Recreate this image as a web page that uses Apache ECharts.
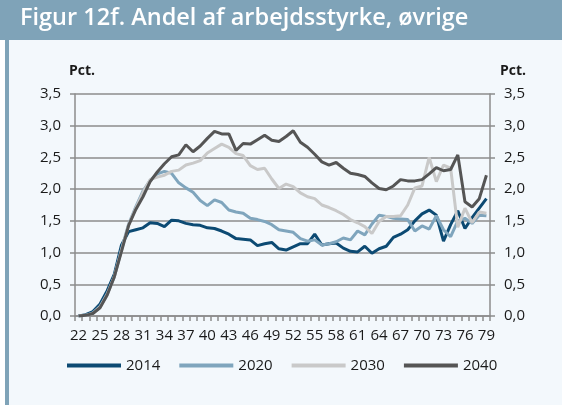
<!DOCTYPE html>
<html><head><meta charset="utf-8">
<script src="https://cdn.jsdelivr.net/npm/echarts@6/dist/echarts.min.js"></script>
<style>html,body{margin:0;padding:0;background:#fff}#c{width:562px;height:405px}</style>
</head><body><div id="c"></div>
<script>
const ages = ['22','23','24','25','26','27','28','29','30','31','32','33','34','35','36','37','38','39','40','41','42','43','44','45','46','47','48','49','50','51','52','53','54','55','56','57','58','59','60','61','62','63','64','65','66','67','68','69','70','71','72','73','74','75','76','77','78','79'];
const s2014 = [0.00,0.02,0.07,0.19,0.40,0.66,1.12,1.33,1.36,1.39,1.47,1.46,1.41,1.51,1.50,1.46,1.44,1.43,1.39,1.38,1.34,1.29,1.22,1.21,1.20,1.11,1.14,1.16,1.06,1.04,1.09,1.14,1.14,1.29,1.12,1.14,1.15,1.07,1.02,1.01,1.10,0.99,1.06,1.10,1.24,1.29,1.36,1.50,1.61,1.67,1.59,1.18,1.44,1.66,1.38,1.55,1.70,1.85];
const s2020 = [0.00,0.01,0.05,0.15,0.35,0.62,1.05,1.45,1.72,1.97,2.14,2.24,2.28,2.25,2.10,2.02,1.95,1.82,1.74,1.83,1.79,1.67,1.64,1.62,1.54,1.52,1.49,1.44,1.36,1.34,1.32,1.22,1.18,1.20,1.12,1.14,1.17,1.23,1.20,1.34,1.28,1.45,1.59,1.57,1.54,1.53,1.52,1.34,1.42,1.37,1.58,1.36,1.25,1.50,1.54,1.46,1.59,1.58];
const s2030 = [0.00,0.01,0.04,0.14,0.34,0.62,1.04,1.44,1.70,1.95,2.15,2.19,2.22,2.28,2.30,2.38,2.41,2.45,2.57,2.64,2.71,2.66,2.56,2.53,2.37,2.31,2.33,2.16,2.01,2.08,2.04,1.94,1.88,1.85,1.75,1.71,1.66,1.60,1.52,1.47,1.41,1.30,1.49,1.57,1.57,1.58,1.75,2.02,2.05,2.50,2.12,2.38,2.33,1.40,1.70,1.47,1.64,1.62];
const s2040 = [0.00,0.01,0.04,0.13,0.33,0.62,1.02,1.43,1.68,1.88,2.12,2.27,2.40,2.51,2.54,2.70,2.59,2.68,2.80,2.91,2.87,2.87,2.61,2.72,2.71,2.78,2.85,2.77,2.75,2.83,2.92,2.74,2.66,2.55,2.43,2.38,2.42,2.33,2.25,2.23,2.20,2.10,2.01,1.99,2.05,2.15,2.13,2.13,2.15,2.24,2.34,2.29,2.31,2.54,1.80,1.72,1.85,2.22];
const seriesNames = ['2014','2020','2030','2040'];
const seriesColors = ['#0c4a73','#7fa5bd','#c9c9c9','#555555'];
const titleText = 'Figur 12f. Andel af arbejdsstyrke, øvrige';
const unitLabel = 'Pct.';

const FONT = '"Open Sans", sans-serif';
const gridCol = '#8c8c8c';
const fmt = v => v.toFixed(1).replace('.', ',');

const chart = echarts.init(document.getElementById('c'), null, {renderer: 'canvas'});
const yAxisBase = {
  type: 'value', min: 0, max: 3.5, interval: 0.5,
  axisLine: {show: true, lineStyle: {color: gridCol, width: 1.5}},
  axisTick: {show: true, length: 5, lineStyle: {color: gridCol, width: 1.5}},
  axisLabel: {formatter: fmt, color: '#1a1a1a', fontSize: 15, fontFamily: FONT, margin: 14}
};
const data = [s2014, s2020, s2030, s2040];
chart.setOption({
  backgroundColor: '#f3f8fc',
  animation: false,
  graphic: [
    {type: 'rect', shape: {x: 0, y: 0, width: 562, height: 40}, style: {fill: '#7fa3b8'}},
    {type: 'rect', shape: {x: 0, y: 40, width: 5, height: 365}, style: {fill: '#ffffff'}},
    {type: 'rect', shape: {x: 5, y: 40, width: 4, height: 365}, style: {fill: '#7fa3b8'}},
    {type: 'text', left: 20, top: 6, style: {text: titleText, fill: '#ffffff', font: '600 23.5px "Open Sans", sans-serif'}},
    {type: 'text', left: 69, top: 64, style: {text: unitLabel, fill: '#1a1a1a', font: 'bold 14px "Open Sans", sans-serif'}},
    {type: 'text', left: 500, top: 64, style: {text: unitLabel, fill: '#1a1a1a', font: 'bold 14px "Open Sans", sans-serif'}}
  ],
  grid: {left: 75, right: 72, top: 94, bottom: 89, containLabel: false},
  legend: {
    data: seriesNames, left: 62, top: 353, icon: 'rect', itemWidth: 54, itemHeight: 4, itemGap: 19,
    textStyle: {fontSize: 15, fontFamily: FONT, color: '#1a1a1a'}
  },
  xAxis: {
    type: 'category', data: ages, boundaryGap: true,
    axisLine: {lineStyle: {color: gridCol, width: 1.5}},
    axisTick: {show: true, interval: 0, length: 5, lineStyle: {color: gridCol, width: 1.5}},
    axisLabel: {interval: 2, color: '#1a1a1a', fontSize: 15, fontFamily: FONT, margin: 12}
  },
  yAxis: [
    Object.assign({}, yAxisBase, {position: 'left', splitLine: {show: true, lineStyle: {color: gridCol, width: 1.5}}}),
    Object.assign({}, yAxisBase, {position: 'right', splitLine: {show: false}})
  ],
  series: seriesNames.map((n, i) => ({
    name: n, type: 'line', data: data[i], symbol: 'none', smooth: false,
    lineStyle: {width: 3, color: seriesColors[i]}, itemStyle: {color: seriesColors[i]}
  }))
});
</script></body></html>
